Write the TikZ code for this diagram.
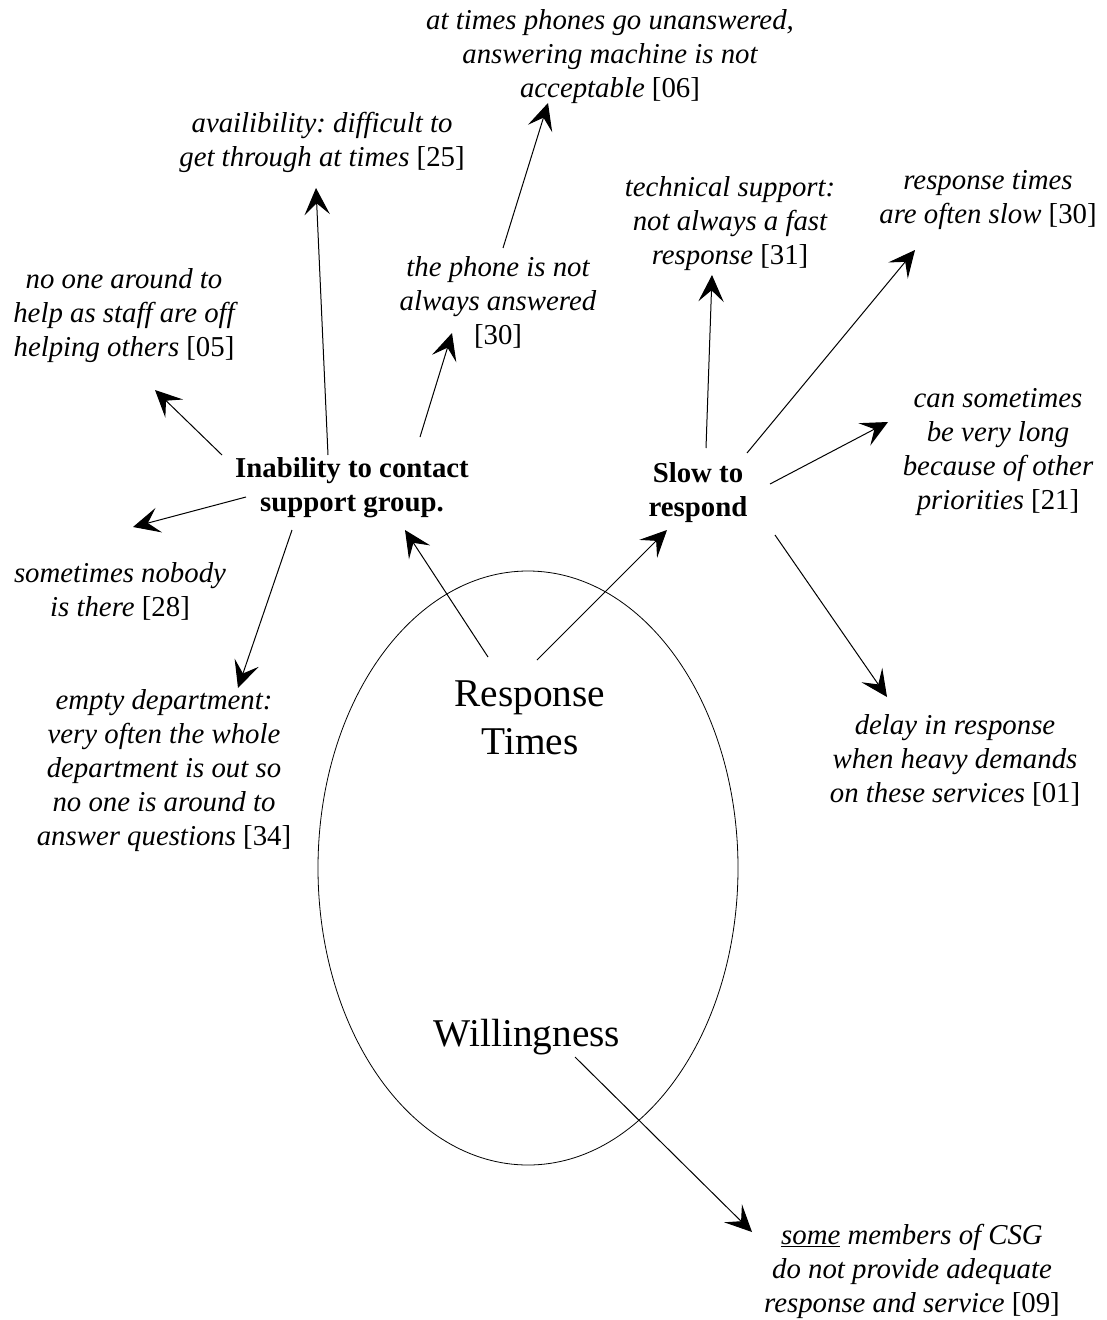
\documentclass[tikz,border=0pt]{standalone}
\usepackage{fontspec}
\setmainfont{Liberation Serif}
\usetikzlibrary{arrows.meta}
\frenchspacing
\begin{document}
\begin{tikzpicture}[x=0.75pt,y=-0.75pt,
  note/.style={font=\fontsize{21.6pt}{25.5pt}\selectfont\itshape, align=center, inner sep=0pt},
  head/.style={font=\fontsize{21.6pt}{25.5pt}\selectfont\bfseries, align=center, inner sep=0pt},
  big/.style={font=\fontsize{29.5pt}{36pt}\selectfont, align=center, inner sep=0pt},
  arr/.style={line width=0.75pt, -{Stealth[length=20pt,width=19pt,inset=8.5pt]}}]
\useasboundingbox (0,0) rectangle (1106,1320);

% central ellipse
\draw[line width=0.6pt] (528,868) ellipse [x radius=210, y radius=297];
\node[big] (resp) at (530,718) {Response\\Times};
\node[big] (will) at (527,1037) {Willingness};

% the two themes
\node[head] (inab) at (352,488) {Inability to contact\\support group.};
\node[head] (slow) at (698,493) {Slow to\\respond};

% comments
\node[note] (atimes) at (610,57) {at times phones go unanswered,\\answering machine is not\\acceptable \upshape[06]};
\node[note] (avail) at (322,142) {availibility: difficult to\\get through at times \upshape[25]};
\node[note] (noone) at (124,316) {no one around to\\help as staff are off\\helping others \upshape[05]};
\node[note] (phone) at (498,302) {the phone is not\\always answered\\\upshape[30]};
\node[note] (tech) at (730,224) {technical support:\\not always a fast\\response \upshape[31]};
\node[note] (rtimes) at (988,200) {response times\\are often slow \upshape[30]};
\node[note] (cansom) at (998,452) {can sometimes\\be very long\\because of other\\priorities \upshape[21]};
\node[note] (nobody) at (120,591) {sometimes nobody\\is there \upshape[28]};
\node[note] (empty) at (164,771) {empty department:\\very often the whole\\department is out so\\no one is around to\\answer questions \upshape[34]};
\node[note] (delay) at (955,760) {delay in response\\when heavy demands\\on these services \upshape[01]};
\node[note] (some) at (912,1271) {\underline{some} members of CSG\\do not provide adequate\\response and service \upshape[09]};

% connectors
\draw[arr] ([shift={(-42,-61)}]resp.center) -- ([shift={(53,42)}]inab.center);
\draw[arr] ([shift={(7,-58)}]resp.center) -- ([shift={(-31,37)}]slow.center);

\draw[arr] ([shift={(-130,-33)}]inab.center) -- ([shift={(31,74)}]noone.center);
\draw[arr] ([shift={(-106,9)}]inab.center) -- ([shift={(13,-64)}]nobody.center);
\draw[arr] ([shift={(-60,42)}]inab.center) -- ([shift={(74,-83)}]empty.center);
\draw[arr] ([shift={(-24,-33)}]inab.center) -- ([shift={(-6,46)}]avail.center);
\draw[arr] ([shift={(68,-51)}]inab.center) -- ([shift={(-46,31)}]phone.center);
\draw[arr] ([shift={(5,-54)}]phone.center) -- ([shift={(-62,46)}]atimes.center);

\draw[arr] ([shift={(8,-45)}]slow.center) -- ([shift={(-18,51)}]tech.center);
\draw[arr] ([shift={(49,-40)}]slow.center) -- ([shift={(-73,50)}]rtimes.center);
\draw[arr] ([shift={(72,-9)}]slow.center) -- ([shift={(-110,-30)}]cansom.center);
\draw[arr] ([shift={(77,42)}]slow.center) -- ([shift={(-68,-63)}]delay.center);

\draw[arr] ([shift={(48,20)}]will.center) -- ([shift={(-160,-39)}]some.center);
\end{tikzpicture}
\end{document}
